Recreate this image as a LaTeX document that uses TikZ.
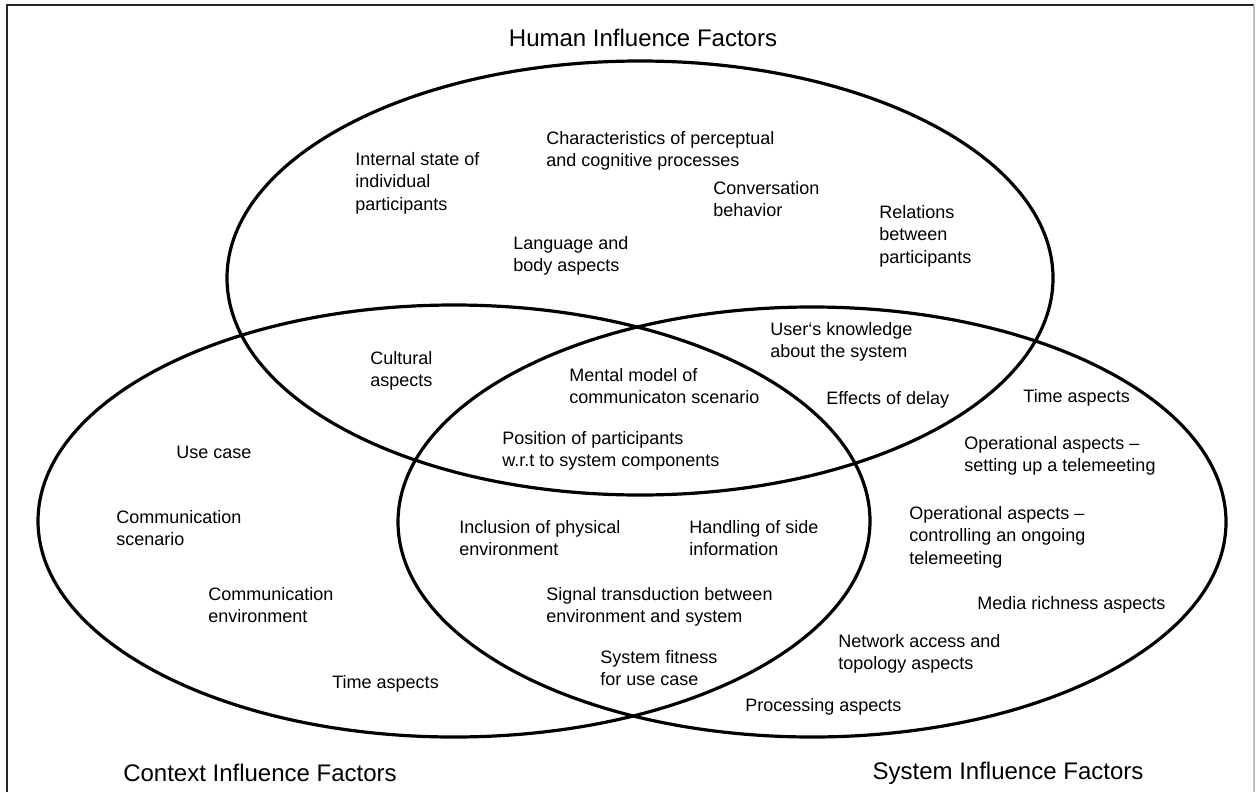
\documentclass[tikz,border=0pt]{standalone}
\usepackage{fontspec}
\setmainfont{Liberation Sans}
\begin{document}
\begin{tikzpicture}[x=0.5pt,y=-0.5pt,
  ring/.style={line width=1.6pt},
  txt/.style={anchor=north west, inner sep=0pt, align=left,
    font=\fontsize{9}{11.25}\selectfont},
  heading/.style={anchor=center, inner sep=0pt,
    font=\fontsize{12}{14}\selectfont}]
\useasboundingbox (0,0) rectangle (1256,792);
% frame
\draw[line width=0.6pt, black!85] (7,792) -- (7,5) -- (1254,5);
\draw[line width=0.6pt, black!25] (1254,5) -- (1254,792);

% the three influence-factor sets
\draw[ring] (640,278) ellipse [x radius=413, y radius=217];
\draw[ring] (454,521) ellipse [x radius=416, y radius=216];
\draw[ring] (812,522) ellipse [x radius=414, y radius=215];

% headings
\node[heading] (hum) at (643,38) {Human Influence Factors};
\node[heading] (ctx) at (260,773) {Context Influence Factors};
\node[heading] (sys) at (1008,773) {System Influence Factors};

% human factors
\node[txt] (h1) at (546,128) {\strut Characteristics of perceptual\\and cognitive processes};
\node[txt] (h2) at (355,149) {\strut Internal state of\\individual\\participants};
\node[txt] (h3) at (713,178) {\strut Conversation\\behavior};
\node[txt] (h4) at (879,202) {\strut Relations\\between\\participants};
\node[txt] (h5) at (513,233) {\strut Language and\\body aspects};

% human / context
\node[txt] (hc1) at (370,348) {\strut Cultural\\aspects};
% human / system
\node[txt] (hs1) at (770,319) {\strut User‘s knowledge\\about the system};
\node[txt] (hs2) at (826,388) {\strut Effects of delay};
% all three
\node[txt] (a1) at (569,365) {\strut Mental model of\\communicaton scenario};
\node[txt] (a2) at (502,428) {\strut Position of participants\\w.r.t to system components};

% system factors
\node[txt] (s1) at (1023,386) {\strut Time aspects};
\node[txt] (s2) at (964,433) {\strut Operational aspects –\\setting up a telemeeting};
\node[txt] (s3) at (909,503) {\strut Operational aspects –\\controlling an ongoing\\telemeeting};
\node[txt] (s4) at (977,593) {\strut Media richness aspects};
\node[txt] (s5) at (838,631) {\strut Network access and\\topology aspects};
\node[txt] (s6) at (745,695) {\strut Processing aspects};

% context factors
\node[txt] (c1) at (176,442) {\strut Use case};
\node[txt] (c2) at (116,507) {\strut Communication\\scenario};
\node[txt] (c3) at (208,584) {\strut Communication\\environment};
\node[txt] (c4) at (332,672) {\strut Time aspects};

% context / system
\node[txt] (cs1) at (459,517) {\strut Inclusion of physical\\environment};
\node[txt] (cs2) at (689,517) {\strut Handling of side\\information};
\node[txt] (cs3) at (546,584) {\strut Signal transduction between\\environment and system};
\node[txt] (cs4) at (600,647) {\strut System fitness\\for use case};
\end{tikzpicture}
\end{document}
